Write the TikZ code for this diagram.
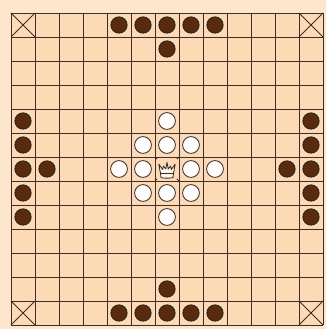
\documentclass[tikz,border=0pt]{standalone}
\usepackage{xcolor}
\usepackage{tikz}
\definecolor{boardpeach}{HTML}{FCDAB5}
\definecolor{marginpeach}{HTML}{FDE6CC}
\definecolor{gridbrown}{HTML}{3E2E26}
\definecolor{attackbrown}{HTML}{5A2A0C}
\definecolor{crownwhite}{HTML}{FFF5EA}

\begin{document}
\begin{tikzpicture}[x=0.5cm, y=-0.5cm,
    attacker/.style={circle, fill=attackbrown, draw=black!85, line width=0.5pt, minimum size=0.68*0.5cm, inner sep=0pt},
    defender/.style={circle, fill=white, draw=gridbrown, line width=0.5pt, minimum size=0.7*0.5cm, inner sep=0pt},
    kingpiece/.style={rectangle, fill=boardpeach, minimum size=0.8*0.5cm, inner sep=0pt}]
    % paper and board
    \fill[marginpeach] (-11/24,-13/24) rectangle (315/24,316/24);
    \useasboundingbox (-11/24,-13/24) rectangle (315/24,316/24);
    \fill[boardpeach] (0,0) rectangle (13,13);
    \foreach \k in {0,...,13}{
      \draw[gridbrown, line width=0.55pt] (\k,0) -- (\k,13);
      \draw[gridbrown, line width=0.55pt] (0,\k) -- (13,\k);
    }
    % corner squares and throne
    \foreach \c/\r in {0/0, 12/0, 0/12, 12/12, 6/6}
      \draw[gridbrown, line width=0.45pt] (\c,\r) -- (\c+1,\r+1) (\c+1,\r) -- (\c,\r+1);
    % attackers
    \foreach \k in {4,...,8}{
      \node[attacker] (top-\k) at (\k+.5,.5) {};
      \node[attacker] (bottom-\k) at (\k+.5,12.5) {};
      \node[attacker] (left-\k) at (.5,\k+.5) {};
      \node[attacker] (right-\k) at (12.5,\k+.5) {};
    }
    \node[attacker] (top-in) at (6.5,1.5) {};
    \node[attacker] (bottom-in) at (6.5,11.5) {};
    \node[attacker] (left-in) at (1.5,6.5) {};
    \node[attacker] (right-in) at (11.5,6.5) {};
    % defenders
    \foreach \c/\r in {6/4, 5/5, 6/5, 7/5, 4/6, 5/6, 7/6, 8/6, 5/7, 6/7, 7/7, 6/8}
      \node[defender] (def-\c-\r) at (\c+.5,\r+.5) {};
    % king
    \node[kingpiece] (king) at (6.5,6.5) {};
    \draw[gridbrown, line width=0.5pt, line join=round, fill=crownwhite, shift={(king.center)}]
      (-0.25,0.36) .. controls (-0.1,0.39) and (0.1,0.39) .. (0.25,0.36)
      -- (0.27,0.19) -- (0.34,-0.2) -- (0.18,0.02) -- (0.15,-0.12)
      -- (0.05,0.0) -- (0,-0.28) -- (-0.05,0.0) -- (-0.15,-0.12)
      -- (-0.18,0.02) -- (-0.34,-0.2) -- (-0.27,0.19) -- cycle;
    \draw[gridbrown, line width=0.4pt, shift={(king.center)}]
      (-0.27,0.19) -- (0.27,0.19);
  \end{tikzpicture}
\end{document}
